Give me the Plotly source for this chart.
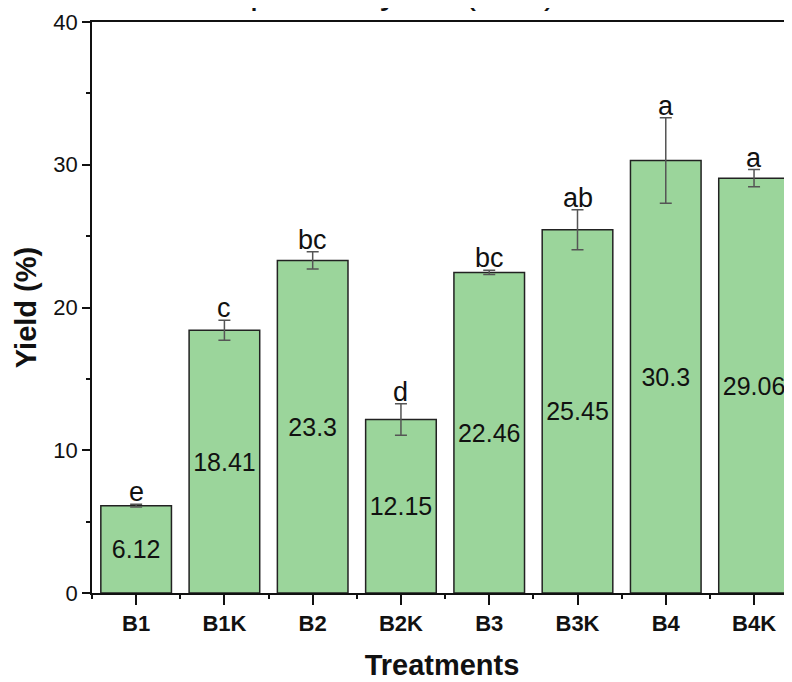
import plotly.graph_objects as go

categories = ["B1", "B1K", "B2", "B2K", "B3", "B3K", "B4", "B4K"]
yield_values = [6.12, 18.41, 23.3, 12.15, 22.46, 25.45, 30.3, 29.06]
yield_errors = [0.1, 0.7, 0.6, 1.1, 0.15, 1.4, 3.0, 0.6]
group_letters = ["e", "c", "bc", "d", "bc", "ab", "a", "a"]
y_ticks = [0, 10, 20, 30, 40]
title_text = "product yield (wt%)"

FONT = "Arial, Liberation Sans"
xpos = list(range(len(categories)))

fig = go.Figure()
fig.add_trace(go.Bar(
    x=xpos, y=yield_values, width=0.8,
    marker=dict(color="#9BD59B", line=dict(color="#222222", width=1.5)),
    error_y=dict(type="data", array=yield_errors, visible=True,
                 color="#555555", thickness=1.5, width=6),
    text=[str(v) for v in yield_values], textposition="inside",
    insidetextanchor="middle", textangle=0,
    textfont=dict(family=FONT, size=25, color="#111111"),
    showlegend=False,
))

for x, v, e, lab in zip(xpos, yield_values, yield_errors, group_letters):
    fig.add_annotation(x=x, y=v + e, text=lab, showarrow=False,
                       yanchor="bottom", yshift=-5,
                       font=dict(family=FONT, size=27, color="#111111"))

fig.add_annotation(xref="paper", yref="paper", x=(248 - 92) / 700, y=1 + 9 / 570,
                   xanchor="left", yanchor="bottom", text=title_text, showarrow=False,
                   font=dict(family=FONT, size=36, color="#111111"))

# page body adds an 8px offset; margins compensate so the plot area sits at x 92-792, y 22-593
fig.update_layout(
    width=784, height=674,
    margin=dict(l=84, r=0, t=14, b=89),
    paper_bgcolor="white", plot_bgcolor="white",
    font=dict(family=FONT, color="#111111"),
    bargap=0.2,
)
fig.update_xaxes(
    range=[-0.5, 7.43], tickvals=xpos, ticktext=categories, automargin=False,
    tickfont=dict(size=22, family=FONT, color="#111111", weight="bold"),
    ticks="outside", ticklen=10, tickwidth=1.5, tickcolor="#111111",
    showline=True, linecolor="#111111", linewidth=1.5, mirror=True,
    showgrid=False, zeroline=False,
    minor=dict(tickvals=[i - 0.5 for i in range(len(categories) + 1)],
               ticks="outside", ticklen=4, tickwidth=1.5, tickcolor="#111111"),
    title=dict(text="<b>Treatments</b>", font=dict(size=29, family=FONT, color="#111111"),
               standoff=20),
)
fig.update_yaxes(
    range=[0, 40], tickvals=y_ticks, automargin=False,
    tickfont=dict(size=22, family=FONT, color="#111111"),
    ticks="outside", ticklen=8, tickwidth=1.5, tickcolor="#111111",
    showline=True, linecolor="#111111", linewidth=1.5, mirror=False,
    showgrid=False, zeroline=False,
    minor=dict(tickvals=[5, 15, 25, 35], ticks="outside", ticklen=4, tickwidth=1.5, tickcolor="#111111"),
    title=dict(text="<b>Yield (%)</b>", font=dict(size=29, family=FONT, color="#111111"),
               standoff=8),
)

fig.write_html("out.html")
